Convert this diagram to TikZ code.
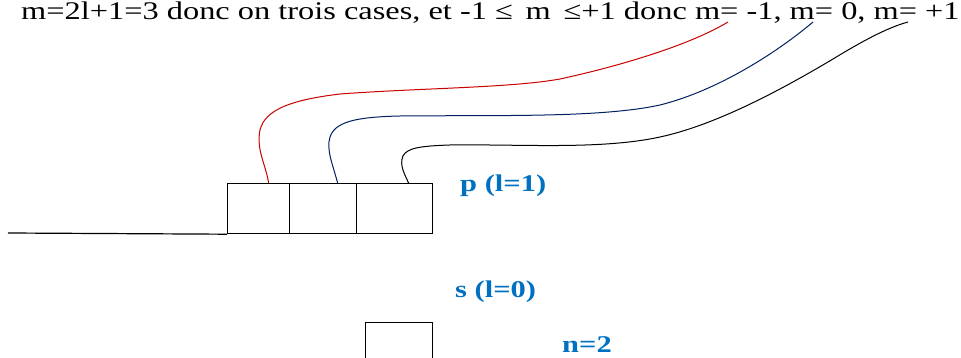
\documentclass[tikz,border=0pt]{standalone}
\usepackage{fontspec}
\usepackage{graphicx}
\setmainfont{Liberation Serif}
\definecolor{lblblue}{RGB}{0,112,192}
\definecolor{cred}{RGB}{200,0,0}
\definecolor{cnavy}{RGB}{0,32,96}
\tikzset{
  cell/.style={draw=black, line width=1.2pt, minimum height=50pt, inner sep=0pt, anchor=north west},
  lbl/.style={text=lblblue, font=\fontsize{24pt}{28pt}\selectfont\bfseries, inner sep=0pt, anchor=base west},
  wire/.style={line width=1pt},
}
\begin{document}
\begin{tikzpicture}[x=1pt,y=-1pt]
\useasboundingbox (0,0) rectangle (961,358);
\clip (0,0) rectangle (961,358);
% top text
\node[anchor=base west, inner sep=0pt, font=\fontsize{25.4pt}{30pt}\selectfont] (title) at (21,20)
  {\scalebox{1.275}[1]{m=2l+1=3 donc on trois cases, et -1 ≤\hspace{10pt}m\hspace{10pt}≤+1 donc m= -1, m= 0, m= +1}};
\coordinate (mneg) at (728,22);
\coordinate (mzero) at (813,22);
\coordinate (mpos) at (908,22);
% p boxes
\node[cell, minimum width=62pt] (b1) at (227,183) {};
\node[cell, minimum width=67pt] (b2) at (289,183) {};
\node[cell, minimum width=76pt] (b3) at (356,183) {};
\coordinate (lineL) at (8,233);
\draw[line width=1.2pt] (lineL) -- (b1.south west);
% s box
\node[cell, minimum width=67pt] (sbox) at (365,322) {};
% labels
\node[lbl] (plab) at (460,192) {\scalebox{1.27}[1]{p (l=1)}};
\node[lbl] (slab) at (455,297) {\scalebox{1.27}[1]{s (l=0)}};
\node[lbl] (nlab) at (562,352) {\scalebox{1.27}[1]{n=2}};
% wires
\draw[wire, cred] ([xshift=10pt]b1.north) .. controls (266,165) and (256,150) .. (260,130)
  .. controls (265,110) and (290,100) .. (340,94)
  .. controls (420,88) and (510,88) .. (560,79)
  .. controls (620,66) and (690,45) .. (mneg);
\draw[wire, cnavy] ([xshift=14.5pt]b2.north) .. controls (333,165) and (326,150) .. (330,137)
  .. controls (335,122) and (355,117) .. (400,116)
  .. controls (500,115) and (600,118) .. (660,105)
  .. controls (720,90) and (780,50) .. (mzero);
\draw[wire, black] ([xshift=14pt]b3.north) .. controls (405,175) and (399,165) .. (403,156)
  .. controls (407,148) and (420,146) .. (450,145)
  .. controls (520,144) and (600,150) .. (660,137)
  .. controls (720,124) and (790,85) .. (843,53)
  .. controls (870,37) and (890,27) .. (mpos);
\end{tikzpicture}
\end{document}
